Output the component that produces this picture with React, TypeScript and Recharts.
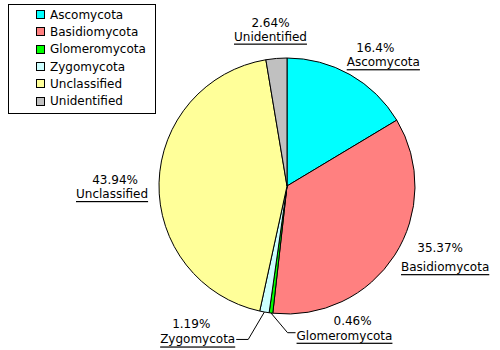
import { PieChart, Pie, Cell } from 'recharts';

const categories = ['Ascomycota', 'Basidiomycota', 'Glomeromycota', 'Zygomycota', 'Unclassified', 'Unidentified'];
const shares = [16.4, 35.37, 0.46, 1.19, 43.94, 2.64];
const colors = ['#00FFFF', '#FF8080', '#00FF00', '#CCFFFF', '#FFFF99', '#C0C0C0'];

const FONT = '"DejaVu Sans", sans-serif';
const RADIAN = Math.PI / 180;

// nudges from the default label anchor (outerRadius + 35 along the slice's mid angle)
const LABEL_NUDGE = [
  { pct: [8, 4], name: [16, 18], anchor: 'middle', leader: 0 },
  { pct: [16, -26], name: [21, -7], anchor: 'middle', leader: 0 },
  { pct: [86, -27], name: [30, -12], anchor: 'start', leader: -1 },
  { pct: [-67, -22], name: [-23, -7], anchor: 'end', leader: 1 },
  { pct: [-9, -2], name: [-12, 12], anchor: 'middle', leader: 0 },
  { pct: [-3, -1], name: [-3, 13], anchor: 'middle', leader: 0 },
];

const data = categories.map((name, i) => ({ name, value: shares[i] }));

function renderLabel(props: any) {
  const { cx, cy, midAngle, outerRadius, index, value, name } = props;
  const nudge = LABEL_NUDGE[index];
  const r = outerRadius + 35;
  const bx = cx + r * Math.cos(-midAngle * RADIAN);
  const by = cy + r * Math.sin(-midAngle * RADIAN);
  const px = bx + nudge.pct[0];
  const py = by + nudge.pct[1];
  const nx = bx + nudge.name[0];
  const ny = by + nudge.name[1];

  let leader = null;
  if (nudge.leader !== 0) {
    const sx = cx + outerRadius * Math.cos(-midAngle * RADIAN);
    const sy = cy + outerRadius * Math.sin(-midAngle * RADIAN);
    const d = nudge.leader;
    const ey = nudge.leader < 0 ? ny - 3 : ny;
    const elbowX = nx + d * (nudge.leader < 0 ? 9 : 13);
    leader = (
      <polyline
        points={`${sx},${sy} ${elbowX},${ey} ${nx + d},${ey}`}
        fill="none"
        stroke="#000"
        strokeWidth={1}
      />
    );
  }

  return (
    <g key={`lbl-${index}`}>
      {leader}
      <text x={px} y={py} textAnchor="middle" dominantBaseline="central" fontSize={12} fontFamily={FONT} fill="#000">
        {`${value}%`}
      </text>
      <text
        x={nx}
        y={ny}
        textAnchor={nudge.anchor}
        dominantBaseline="central"
        fontSize={12}
        fontFamily={FONT}
        fill="#000"
        textDecoration="underline"
      >
        {name}
      </text>
    </g>
  );
}

function LegendBox() {
  return (
    <div
      style={{
        position: 'absolute',
        left: 8,
        top: 4,
        width: 146,
        height: 107,
        border: '1px solid #000',
        background: '#fff',
        paddingTop: 1,
        boxSizing: 'content-box',
        fontFamily: FONT,
        fontSize: 12,
        color: '#000',
      }}
    >
      {categories.map((c, i) => (
        <div key={c} style={{ height: 17.3, display: 'flex', alignItems: 'center' }}>
          <span
            style={{
              display: 'inline-block',
              width: 9,
              height: 9,
              marginLeft: 27,
              marginRight: 5,
              boxSizing: 'border-box',
              border: '1px solid #000',
              background: colors[i],
            }}
          />
          <span>{c}</span>
        </div>
      ))}
    </div>
  );
}

export default function App() {
  return (
    <div style={{ position: 'absolute', left: 0, top: 0, width: 500, height: 350, background: '#fff' }}>
      <PieChart width={500} height={350} margin={{ top: 0, right: 0, bottom: 0, left: 0 }}>
        <Pie
          data={data}
          dataKey="value"
          nameKey="name"
          cx={287}
          cy={186}
          outerRadius={128}
          startAngle={90}
          endAngle={-270}
          stroke="#000"
          strokeWidth={1}
          labelLine={false}
          label={renderLabel}
          isAnimationActive={false}
        >
          {data.map((d, i) => (
            <Cell key={d.name} fill={colors[i]} />
          ))}
        </Pie>
      </PieChart>
      <LegendBox />
    </div>
  );
}
